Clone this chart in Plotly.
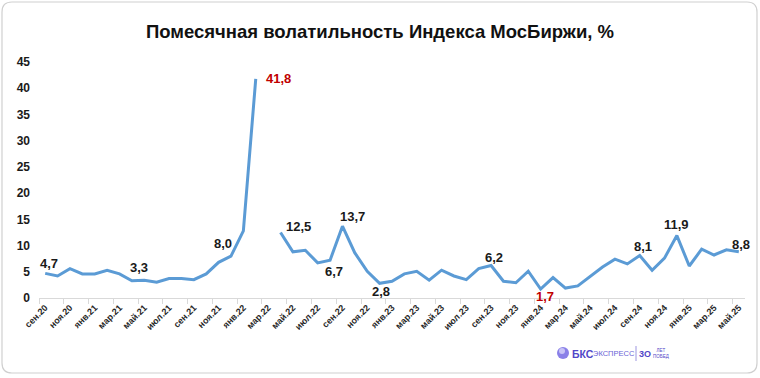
import plotly.graph_objects as go

months = ["сен.20","окт.20","ноя.20","дек.20","янв.21","фев.21","мар.21","апр.21","май.21","июн.21",
          "июл.21","авг.21","сен.21","окт.21","ноя.21","дек.21","янв.22","фев.22","мар.22","апр.22",
          "май.22","июн.22","июл.22","авг.22","сен.22","окт.22","ноя.22","дек.22","янв.23","фев.23",
          "мар.23","апр.23","май.23","июн.23","июл.23","авг.23","сен.23","окт.23","ноя.23","дек.23",
          "янв.24","фев.24","мар.24","апр.24","май.24","июн.24","июл.24","авг.24","сен.24","окт.24",
          "ноя.24","дек.24","янв.25","фев.25","мар.25","апр.25","май.25"]
volatility = [4.7, 4.2, 5.6, 4.6, 4.6, 5.3, 4.6, 3.3, 3.4, 3.0,
              3.7, 3.7, 3.5, 4.6, 6.8, 8.0, 12.8, 41.8, None, 12.5,
              8.8, 9.1, 6.7, 7.2, 13.7, 8.6, 5.1, 2.8, 3.2, 4.6,
              5.1, 3.4, 5.3, 4.2, 3.5, 5.6, 6.2, 3.2, 2.9, 5.1,
              1.7, 3.9, 1.9, 2.3, 4.1, 5.9, 7.4, 6.5, 8.1, 5.3,
              7.6, 11.9, 6.1, 9.3, 8.2, 9.2, 8.8]
# labelled points: index -> (dx, dy in px)
label_idx = [0, 7, 15, 17, 19, 22, 24, 27, 36, 40, 48, 51, 56]
label_off = {0: (4, 10), 7: (7, 13), 15: (-8, 13), 17: (23, 0), 19: (18, 6), 22: (16, -9),
             24: (10, 10), 27: (1, -8), 36: (3, 8), 40: (4, -7), 48: (3, 9), 51: (0, 11), 56: (2, 7)}
red_idx = [17, 40]

W, H = 760, 378
L, R, T, B = 39, 15, 62, 80
PW, PH = W - L - R, H - T - B


def xp(px):
    return (px - L) / PW


def yp(py):
    return (H - B - py) / PH


x = list(range(len(months)))
fig = go.Figure()
fig.add_trace(go.Scatter(x=x, y=volatility, mode="lines",
                         line=dict(color="#5b9bd5", width=3), connectgaps=False,
                         hoverinfo="skip"))

for i in label_idx:
    dx, dy = label_off[i]
    fig.add_annotation(x=i, y=volatility[i], xref="x", yref="y", showarrow=False,
                       text=f"{volatility[i]:.1f}".replace(".", ","),
                       xshift=dx, yshift=dy, xanchor="center", yanchor="middle",
                       font=dict(family="Liberation Sans, Arial", size=13, weight="bold",
                                 color="#c00000" if i in red_idx else "#1a1a1a"))

# border with rounded corners
x0, y0, x1, y1, r = 2, 2, 757, 373, 10
path = (f"M {xp(x0+r)},{yp(y0)} L {xp(x1-r)},{yp(y0)} Q {xp(x1)},{yp(y0)} {xp(x1)},{yp(y0+r)} "
        f"L {xp(x1)},{yp(y1-r)} Q {xp(x1)},{yp(y1)} {xp(x1-r)},{yp(y1)} "
        f"L {xp(x0+r)},{yp(y1)} Q {xp(x0)},{yp(y1)} {xp(x0)},{yp(y1-r)} "
        f"L {xp(x0)},{yp(y0+r)} Q {xp(x0)},{yp(y0)} {xp(x0+r)},{yp(y0)} Z")
fig.add_shape(type="path", path=path, xref="paper", yref="paper",
              line=dict(color="#d0d0d0", width=1.2), layer="below")

# logo
fig.add_shape(type="circle", xref="paper", yref="paper",
              x0=xp(557), x1=xp(569), y0=yp(359), y1=yp(347),
              fillcolor="#8a80e8", line=dict(width=0))
fig.add_shape(type="circle", xref="paper", yref="paper",
              x0=xp(559), x1=xp(565), y0=yp(354), y1=yp(348),
              fillcolor="#c9c4f7", line=dict(width=0))
fig.add_annotation(x=xp(570), y=yp(353.5), xref="paper", yref="paper", showarrow=False,
                   xanchor="left", yanchor="middle", text="БКС",
                   font=dict(family="Liberation Sans, Arial", size=10.5, weight="bold", color="#5146c8"))
fig.add_annotation(x=xp(591), y=yp(353.5), xref="paper", yref="paper", showarrow=False,
                   xanchor="left", yanchor="middle", text="ЭКСПРЕСС",
                   font=dict(family="Liberation Sans, Arial", size=7.5, color="#6a5fd6"))
fig.add_shape(type="line", xref="paper", yref="paper", x0=xp(636), x1=xp(636),
              y0=yp(346), y1=yp(361), line=dict(color="#9c95e0", width=1))
fig.add_annotation(x=xp(637), y=yp(353.5), xref="paper", yref="paper", showarrow=False,
                   xanchor="left", yanchor="middle", text="3О",
                   font=dict(family="Liberation Sans, Arial", size=9,
                             weight="bold", color="#5146c8"))
fig.add_annotation(x=xp(651), y=yp(353.5), xref="paper", yref="paper", showarrow=False,
                   xanchor="left", yanchor="middle", text="ЛЕТ<br>ПОБЕД",
                   font=dict(family="Liberation Sans, Arial", size=4.5, color="#5146c8"))

fig.update_layout(
    width=W, height=H,
    margin=dict(l=L, r=R, t=T, b=B, autoexpand=False),
    paper_bgcolor="white", plot_bgcolor="white",
    showlegend=False,
    title=dict(text="Помесячная волатильность Индекса МосБиржи, %",
               x=0.5, xanchor="center", y=1 - 32 / H, yanchor="middle",
               font=dict(family="Liberation Sans, Arial", size=18.5, weight="bold", color="#111111")),
    xaxis=dict(range=[-0.5, len(months) - 0.5], tickmode="array",
               tickvals=x[::2], ticktext=months[::2], tickangle=-45,
               ticks="", showgrid=False, zeroline=False,
               showline=True, linecolor="#d9d9d9", linewidth=1,
               tickfont=dict(family="Liberation Sans, Arial", size=9, weight="bold", color="#262626"),
               minor=dict(ticks="outside", tick0=-0.5, dtick=2, ticklen=5,
                          tickcolor="#d9d9d9", tickwidth=1, showgrid=False)),
    yaxis=dict(range=[0, 45], tickvals=[0, 5, 10, 15, 20, 25, 30, 35, 40, 45],
               showgrid=False, zeroline=False, showline=False, ticks="",
               ticklabelstandoff=8,
               tickfont=dict(family="Liberation Sans, Arial", size=12, weight="bold", color="#1a1a1a")),
)

fig.write_html("out.html", config={"displayModeBar": False},
               post_script="document.body.style.margin='0';document.body.style.overflow='hidden';")
